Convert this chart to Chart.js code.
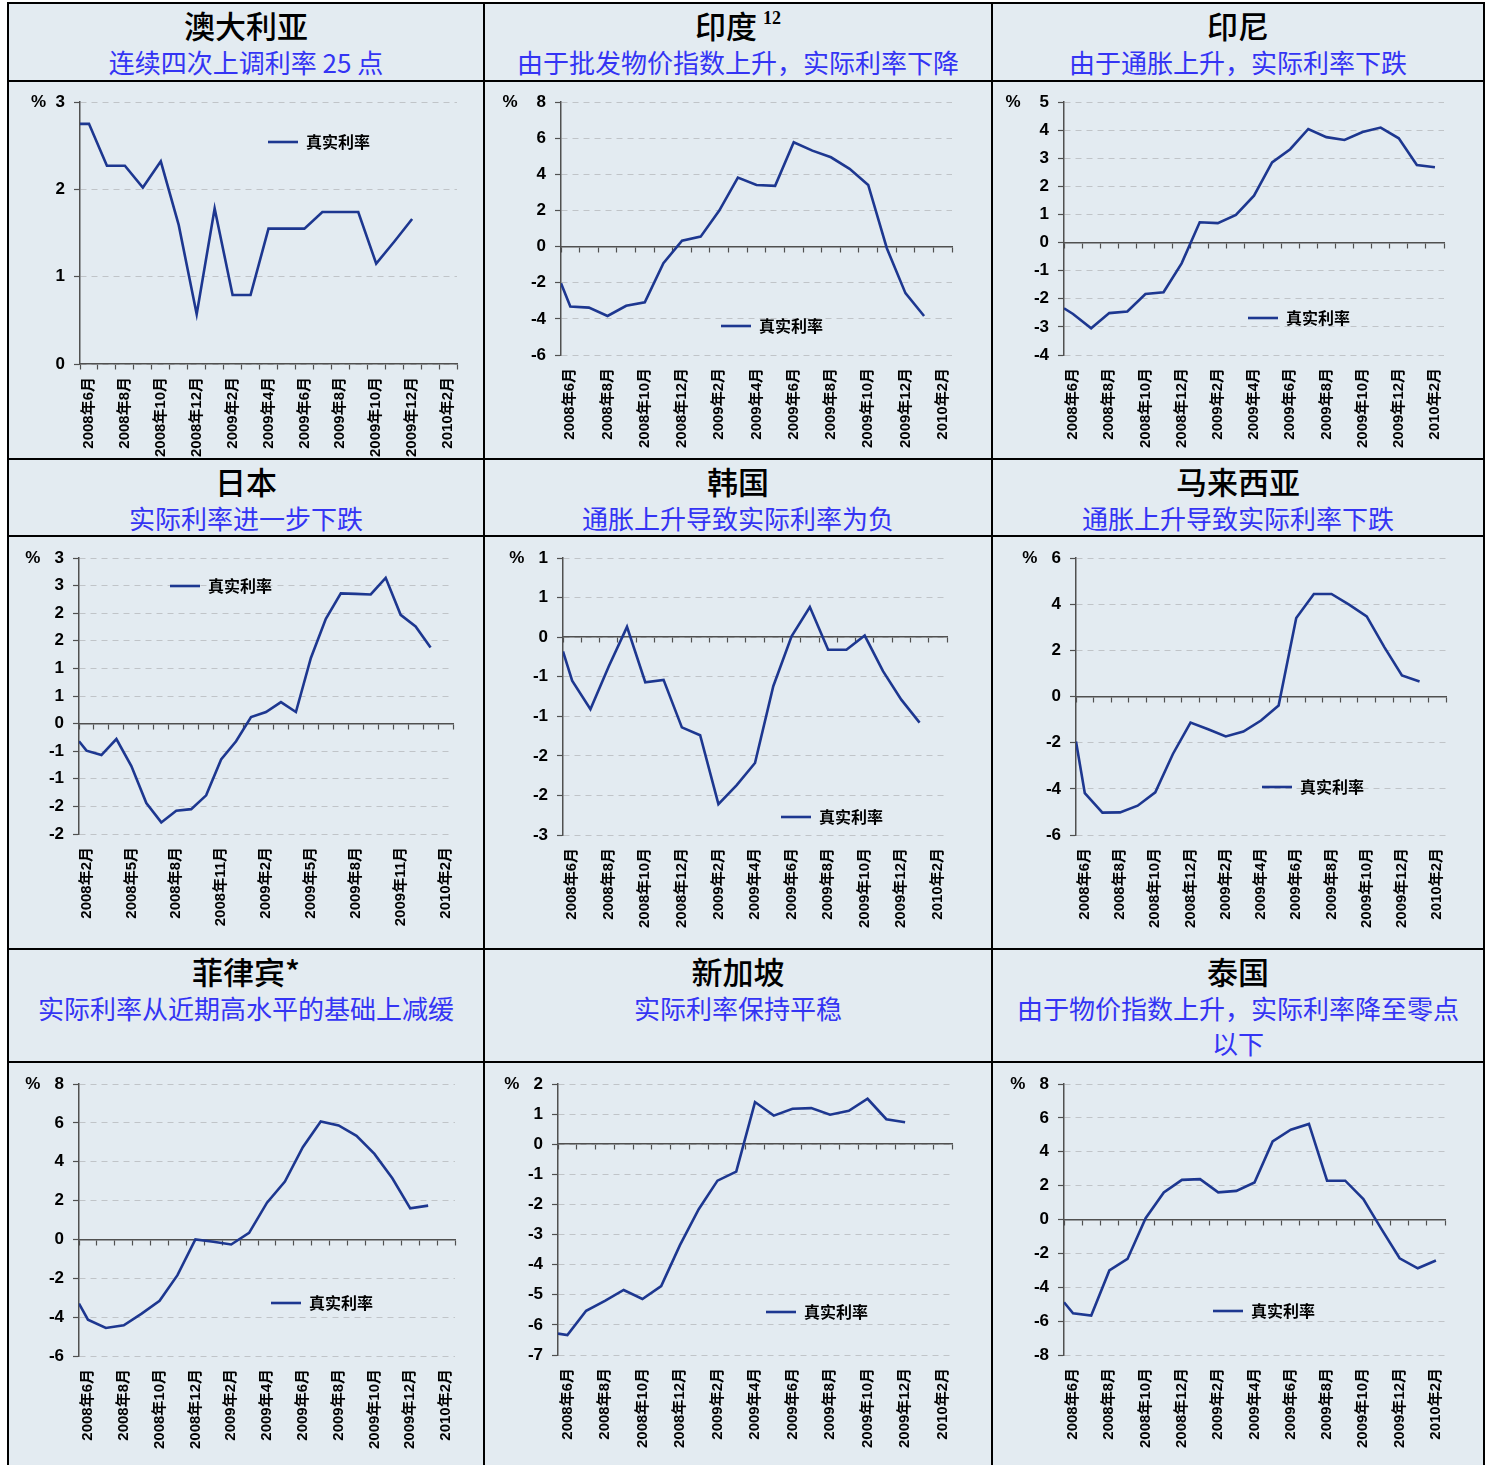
<!DOCTYPE html>
<html>
<head>
<meta charset="utf-8">
<script src="https://cdn.jsdelivr.net/npm/chart.js@4.4.1/dist/chart.umd.min.js"></script>
<style>
body { margin: 0; background: #fff; width: 1494px; height: 1465px; overflow: hidden; position: relative; }
#frame { position: absolute; left: 7px; top: 2px; width: 1478px; height: 1500px; background: #000; }
.cell { position: absolute; background: #e3ebf1; overflow: hidden; }
.hd { text-align: center; font-family: "Noto Sans CJK SC", sans-serif; }
.t { font-size: 31px; line-height: 38px; height: 38px; padding-top: 2px; color: #000; font-weight: 500; }
.t sup { font-family: "Liberation Serif", serif; font-size: 18px; font-weight: bold; line-height: 0; vertical-align: 0; position: relative; top: -14px; margin-left: 6px; }
.s { font-size: 26px; line-height: 35px; color: #3434f4; white-space: pre-line; }
canvas { display: block; }
</style>
</head>
<body>
<div id="frame"></div>
<script>
// 月份 (类别)
const months21 = ['2008年6月', '2008年7月', '2008年8月', '2008年9月', '2008年10月', '2008年11月', '2008年12月',
    '2009年1月', '2009年2月', '2009年3月', '2009年4月', '2009年5月', '2009年6月', '2009年7月', '2009年8月',
    '2009年9月', '2009年10月', '2009年11月', '2009年12月', '2010年1月', '2010年2月'];
const months25 = ['2008年2月', '2008年3月', '2008年4月', '2008年5月', '2008年6月', '2008年7月', '2008年8月',
    '2008年9月', '2008年10月', '2008年11月', '2008年12月', '2009年1月', '2009年2月', '2009年3月', '2009年4月',
    '2009年5月', '2009年6月', '2009年7月', '2009年8月', '2009年9月', '2009年10月', '2009年11月', '2009年12月',
    '2010年1月', '2010年2月'];

// 真实利率 (第一个值 = 坐标轴起点处的值, 其后为逐月数值)
const australia = [2.75, 2.75, 2.27, 2.27, 2.02, 2.32, 1.59, 0.57, 1.78, 0.79, 0.79, 1.55, 1.55, 1.55, 1.74, 1.74, 1.74, 1.15, 1.40, 1.66];
const india = [-2.03, -3.32, -3.38, -3.84, -3.28, -3.08, -0.92, 0.33, 0.55, 1.99, 3.82, 3.41, 3.36, 5.77, 5.31, 4.94, 4.30, 3.41, -0.09, -2.58, -3.84];
const indonesia = [-2.34, -2.54, -3.05, -2.51, -2.45, -1.83, -1.77, -0.74, 0.72, 0.69, 0.98, 1.67, 2.85, 3.32, 4.04, 3.75, 3.65, 3.93, 4.09, 3.71, 2.76, 2.68];
const japan = [-0.32, -0.49, -0.57, -0.28, -0.77, -1.44, -1.79, -1.58, -1.55, -1.30, -0.65, -0.32, 0.12, 0.21, 0.39, 0.21, 1.19, 1.90, 2.36, 2.35, 2.34, 2.64, 1.97, 1.76, 1.38];
const korea = [-0.18, -0.55, -0.91, -0.37, 0.13, -0.57, -0.54, -1.14, -1.24, -2.11, -1.87, -1.59, -0.62, 0.01, 0.38, -0.16, -0.16, 0.02, -0.43, -0.79, -1.08];
const malaysia = [-1.95, -4.19, -5.03, -5.02, -4.73, -4.15, -2.49, -1.13, -1.42, -1.73, -1.52, -1.04, -0.39, 3.40, 4.44, 4.44, 3.98, 3.47, 2.14, 0.91, 0.65];
const philippines = [-3.30, -4.13, -4.56, -4.42, -3.82, -3.16, -1.84, 0.00, -0.12, -0.26, 0.34, 1.89, 2.98, 4.75, 6.07, 5.87, 5.33, 4.40, 3.15, 1.60, 1.74];
const singapore = [-6.29, -6.34, -5.53, -5.20, -4.84, -5.14, -4.71, -3.35, -2.16, -1.21, -0.91, 1.40, 0.95, 1.18, 1.20, 0.98, 1.11, 1.51, 0.83, 0.73];
const thailand = [-4.89, -5.54, -5.67, -3.01, -2.33, 0.08, 1.60, 2.34, 2.38, 1.60, 1.69, 2.19, 4.61, 5.30, 5.64, 2.29, 2.29, 1.20, -0.57, -2.29, -2.88, -2.42];

// 标题
const titles = ['澳大利亚', '印度', '印尼', '日本', '韩国', '马来西亚', '菲律宾*', '新加坡', '泰国'];
const titleSup = ['', '12', '', '', '', '', '', '', ''];
const subtitles = ['连续四次上调利率 25 点', '由于批发物价指数上升，实际利率下降', '由于通胀上升，实际利率下跌',
    '实际利率进一步下跌', '通胀上升导致实际利率为负', '通胀上升导致实际利率下跌',
    '实际利率从近期高水平的基础上减缓', '实际利率保持平稳', '由于物价指数上升，实际利率降至零点\n以下'];

// y轴范围
const yMins = [0, -6, -4, -2, -2.5, -6, -6, -7, -8];
const yMaxs = [3, 8, 5, 3, 1, 6, 8, 2, 8];
const ySteps = [1, 2, 1, 0.5, 0.5, 2, 2, 1, 2];

const seriesName = '真实利率';
const allValues = [australia, india, indonesia, japan, korea, malaysia, philippines, singapore, thailand];
const allMonths = [months21, months21, months21, months25, months21, months21, months21, months21, months21];
const labelEvery = [2, 2, 2, 3, 2, 2, 2, 2, 2];

// 版面 (框线内的格子)
const colLeft = [2, 478, 986];
const colWidth = [474, 506, 490];
const headTop = [2, 458, 948];
const headHeight = [76, 75, 111];
const chartTop = [80, 535, 1061];
const chartHeight = [376, 411, 402];
// 每个图: 左(y轴位置), 上, 右边距, 下(标签区高度)
const plotBox = [[71, 20, 26, 94], [76, 20, 39, 103], [71, 20, 39, 103],
    [70, 21, 30, 114], [78, 21, 44, 113], [83, 21, 37, 113],
    [70, 21, 28, 109], [73, 21, 39, 110], [71, 21, 38, 110]];
const legendSpot = [[259, 60], [236, 244], [255, 236], [161, 49], [296, 280], [269, 250], [262, 240], [281, 249], [220, 248]];
const pctGap = [2, 4, 4, 3, 3, 3, 3, 3, 3];

const lineColor = '#1d3790';
const axisColor = '#505050';
const fontLatin = '"Liberation Sans", "Noto Sans CJK SC", sans-serif';

// 把图例挪到图里
const legendMover = {
    id: 'legendMover',
    afterLayout(chart, args, opts) {
        const lg = chart.legend;
        if (!lg || !opts.spot) return;
        lg.left = opts.spot[0];
        lg.top = opts.spot[1] - 8;
        lg.right = lg.left + lg.width + 20;
        lg.bottom = lg.top + 22;
        lg.height = 22;
    }
};

function roundLabel(v) {
    let r = Math.sign(v) * Math.round(Math.abs(v));
    if (r === 0) return '0';
    return String(r);
}

const frame = document.getElementById('frame');

for (let i = 0; i < 9; i++) {
    let row = Math.floor(i / 3);
    let col = i % 3;

    let head = document.createElement('div');
    head.className = 'cell hd';
    head.style.left = colLeft[col] + 'px';
    head.style.top = headTop[row] + 'px';
    head.style.width = colWidth[col] + 'px';
    head.style.height = headHeight[row] + 'px';
    let t = document.createElement('div');
    t.className = 't';
    t.textContent = titles[i];
    if (titleSup[i]) {
        let sp = document.createElement('sup');
        sp.textContent = titleSup[i];
        t.appendChild(sp);
    }
    let s = document.createElement('div');
    s.className = 's';
    s.textContent = subtitles[i];
    head.appendChild(t);
    head.appendChild(s);
    frame.appendChild(head);

    let cell = document.createElement('div');
    cell.className = 'cell';
    cell.style.left = colLeft[col] + 'px';
    cell.style.top = chartTop[row] + 'px';
    cell.style.width = colWidth[col] + 'px';
    cell.style.height = (row === 2 ? 440 : chartHeight[row]) + 'px';
    let cv = document.createElement('canvas');
    cv.width = colWidth[col];
    cv.height = chartHeight[row];
    cell.appendChild(cv);
    frame.appendChild(cell);

    let vals = allValues[i];
    let months = allMonths[i];
    let pts = vals.map((v, k) => ({ x: k === 0 ? 0 : k - 0.5, y: v }));
    let box = plotBox[i];
    let every = labelEvery[i];

    new Chart(cv, {
        type: 'line',
        data: {
            datasets: [{
                label: seriesName,
                data: pts,
                xAxisID: 'x',
                yAxisID: 'y',
                borderColor: lineColor,
                backgroundColor: lineColor,
                borderWidth: 2.6,
                pointRadius: 0,
                tension: 0,
                fill: false
            }]
        },
        options: {
            responsive: false,
            animation: false,
            devicePixelRatio: 1,
            layout: { padding: { left: 0, top: box[1], right: box[2], bottom: 0 } },
            plugins: {
                legend: {
                    position: 'chartArea',
                    align: 'start',
                    labels: {
                        usePointStyle: true,
                        pointStyle: 'line',
                        pointStyleWidth: 30,
                        padding: 0,
                        color: '#000',
                        font: { family: '"Noto Sans CJK SC", sans-serif', size: 16, weight: 'bold' }
                    }
                },
                legendMover: { spot: legendSpot[i] },
                tooltip: { enabled: false }
            },
            scales: {
                x: {
                    type: 'linear',
                    min: 0,
                    max: months.length,
                    position: { y: 0 },
                    afterFit: sc => { sc.height = 0; },
                    ticks: { display: false, stepSize: 1 },
                    grid: { drawOnChartArea: false, drawTicks: true, tickLength: 5, tickColor: axisColor, tickWidth: 1.2 },
                    border: { color: axisColor, width: 1.5 }
                },
                xl: {
                    type: 'category',
                    labels: months,
                    position: 'bottom',
                    offset: true,
                    afterFit: sc => { sc.height = box[3]; },
                    grid: { display: false, drawTicks: false },
                    border: { display: false },
                    ticks: {
                        autoSkip: false,
                        minRotation: 90,
                        maxRotation: 90,
                        padding: 13,
                        color: '#000',
                        font: { family: fontLatin, size: 15, weight: 'bold' },
                        callback: function (value, index) {
                            return index % every === 0 ? this.getLabelForValue(value) : null;
                        }
                    }
                },
                y: {
                    type: 'linear',
                    position: 'left',
                    min: yMins[i],
                    max: yMaxs[i],
                    afterFit: sc => { sc.width = box[0]; },
                    ticks: {
                        stepSize: ySteps[i],
                        padding: 9,
                        color: '#000',
                        font: { family: fontLatin, size: 17, weight: 'bold' },
                        callback: function (value, index, ticks) {
                            let lab = roundLabel(value);
                            if (index === ticks.length - 1) {
                                return '%' + ' '.repeat(pctGap[i]) + lab;
                            }
                            return lab;
                        }
                    },
                    grid: { color: '#c0c4c8', lineWidth: 1, drawTicks: true, tickLength: 6, tickColor: axisColor, tickWidth: 1.2 },
                    border: { color: axisColor, width: 1.5, dash: [6, 5] }
                }
            }
        },
        plugins: [legendMover]
    });
}
</script>
</body>
</html>
